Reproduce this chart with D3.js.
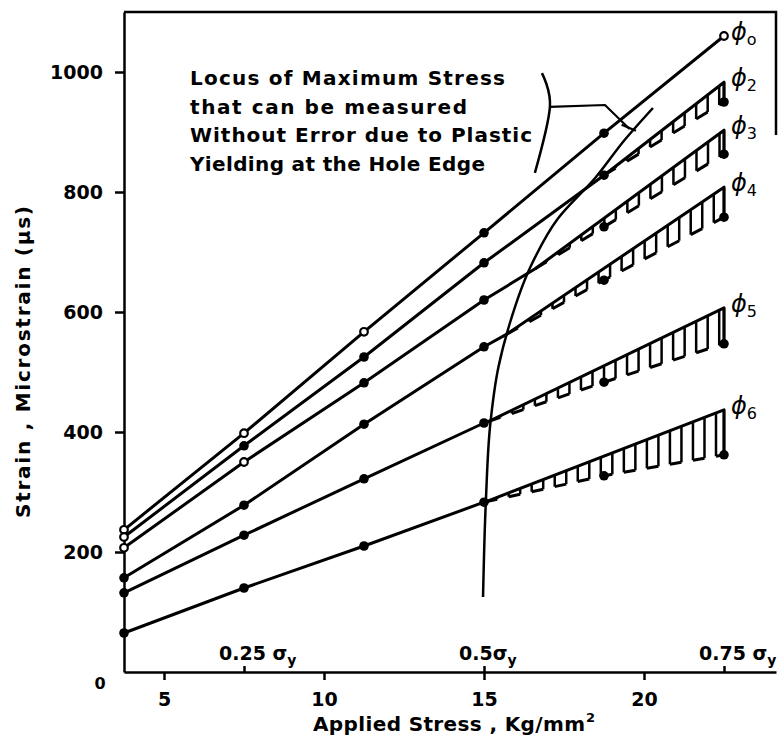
<!DOCTYPE html>
<html>
<head>
<meta charset="utf-8">
<script src="https://cdn.jsdelivr.net/npm/d3@7/dist/d3.min.js"></script>
<style>
  body { margin: 0; background: #fff; }
  svg text { font-family: "DejaVu Sans", sans-serif; font-weight: bold; fill: #000; }
</style>
</head>
<body>
<div id="chart"></div>
<script>
//Data///////////////////////////////////////////////////////////////////////////////////////////

// applied stress (Kg/mm2) where the gauges were read
var stress = [3.75, 7.5, 11.25, 15, 18.75, 22.5];

// measured strain (microstrain) for each hole depth
var phi0 = [237, 398, 567, 732, 898, 1060];
var phi2 = [225, 377, 525, 682, 828, 950];
var phi3 = [207, 350, 482, 620, 742, 863];
var phi4 = [157, 278, 413, 542, 653, 758];
var phi5 = [132, 228, 322, 415, 483, 547];
var phi6 = [65, 140, 210, 283, 327, 362];

var seriesNames = ["o", "2", "3", "4", "5", "6"];
var seriesValues = [phi0, phi2, phi3, phi4, phi5, phi6];

// where each curve leaves the straight line (locus crossing) and the straight line value at 22.5
var yieldStress = [null, 18.75, 16.6, 15.7, 15.15, 15.05];
var elasticEnd = [null, 983, 903, 808, 607, 437];

// locus of maximum stress curve
var locusStress = [14.97, 15.06, 15.2, 15.45, 15.8, 16.45, 17.3, 18.5, 19.4, 20.28];
var locusStrain = [125, 287, 415, 508, 580, 675, 755, 825, 887, 940];

// ticks
var yTicks = [200, 400, 600, 800, 1000];
var xTicks = [5, 10, 15, 20];
var sigmaTicks = [7.5, 15, 22.5];
var sigmaLabels = ["0.25 ", "0.5", "0.75 "];

var noteLines = ["Locus of Maximum Stress", "that can be measured", "Without  Error due to Plastic", "Yielding  at the Hole Edge"];
var noteWidths = [315, 277, 342, 295];

//Graph//////////////////////////////////////////////////////////////////////////////////////////

var W = 780, H = 744;

var svg = d3.select("#chart")
  .append("svg")
    .attr("width", W)
    .attr("height", H);

var x = d3.scaleLinear()
  .domain([3.75, 24.125])
  .range([124, 776]);

var y = d3.scaleLinear()
  .domain([0, 1100])
  .range([672, 12]);

//Axis///////////////////////////////////////////////////////////////////////////////////////////

var xAxis = svg.append("g")
  .attr("transform", "translate(0," + y(0) + ")")
  .call(d3.axisBottom(x).tickValues(xTicks).tickSize(8).tickSizeOuter(0).tickPadding(13));

var yAxis = svg.append("g")
  .attr("transform", "translate(" + x(3.75) + ",0)")
  .call(d3.axisLeft(y).tickValues(yTicks).tickFormat(d3.format("d")).tickSize(9).tickSizeOuter(0).tickPadding(12));

var sigAxis = svg.append("g")
  .attr("transform", "translate(0," + y(0) + ")")
  .call(d3.axisTop(x).tickValues(sigmaTicks).tickSize(6).tickFormat(""));
sigAxis.select(".domain").remove();

[xAxis, yAxis, sigAxis].forEach(function(g) {
  g.attr("font-family", null).attr("font-size", null);
  g.selectAll("path, line").attr("stroke", "#000").attr("stroke-width", 2.5);
  g.selectAll("text").style("font-size", "19px");
});

// sigma_y labels above the axis
var sigText = svg.append("g")
  .selectAll("text")
  .data(sigmaTicks)
  .enter()
  .append("text")
    .attr("x", function(d) { return x(d) - 25; })
    .attr("y", y(0) - 12)
    .style("font-size", "19px");
sigText.append("tspan").text(function(d, i) { return sigmaLabels[i] + "σ"; });
sigText.append("tspan")
  .attr("dy", 5)
  .style("font-size", "14px")
  .text("y");

// origin
svg.append("text")
  .attr("x", 100)
  .attr("y", 689)
  .style("text-anchor", "middle")
  .style("font-size", "16px")
  .text("0");

// frame on top and right
svg.append("path")
  .attr("d", d3.line()([[x(3.75), y(1100)], [x(24.125), y(1100)], [x(24.125), y(895)]]))
  .attr("fill", "none")
  .attr("stroke", "#000")
  .attr("stroke-width", 2.5);

// axis titles
svg.append("text")
  .attr("x", 313)
  .attr("y", 731)
  .attr("textLength", 272)
  .attr("lengthAdjust", "spacing")
  .style("font-size", "20px")
  .text("Applied  Stress , Kg/mm");
svg.append("text")
  .attr("x", 586)
  .attr("y", 722)
  .style("font-size", "13px")
  .text("2");

svg.append("text")
  .attr("transform", "translate(30,362) rotate(-90)")
  .attr("textLength", 312)
  .attr("lengthAdjust", "spacing")
  .style("text-anchor", "middle")
  .style("font-size", "20px")
  .text("Strain , Microstrain (μs)");

//Lines//////////////////////////////////////////////////////////////////////////////////////////

var line = d3.line()
  .x(function(d) { return x(d[0]); })
  .y(function(d) { return y(d[1]); });

function interp(vals, s) {
  var i = d3.bisectRight(stress, s) - 1;
  i = Math.max(0, Math.min(i, stress.length - 2));
  var t = (s - stress[i]) / (stress[i + 1] - stress[i]);
  return vals[i] + t * (vals[i + 1] - vals[i]);
}

var plot = svg.append("g");

seriesValues.forEach(function(vals, k) {
  var pts = stress.map(function(s, i) { return [s, vals[i]]; });
  var ys = yieldStress[k];

  if (ys === null) {
    plot.append("path")
      .attr("d", line(pts))
      .attr("fill", "none")
      .attr("stroke", "#000")
      .attr("stroke-width", 3);
    return;
  }

  var cross = [ys, interp(vals, ys)];
  var last = stress[stress.length - 1];
  var elastic = pts.filter(function(p) { return p[0] < ys; }).concat([cross]);

  // straight (elastic) part and its extension
  plot.append("path")
    .attr("d", line(elastic.concat([[last, elasticEnd[k]], [last, vals[vals.length - 1]]])))
    .attr("fill", "none")
    .attr("stroke", "#000")
    .attr("stroke-width", 3)
    .attr("stroke-linejoin", "round");

  // hatching between extension and measured curve
  var upper = function(s) { return cross[1] + (s - ys) / (last - ys) * (elasticEnd[k] - cross[1]); };
  var step = 0.36;
  var bars = [];
  for (var s = ys + step; s < last - step / 3; s += step) bars.push(s);
  bars.push(last);

  plot.append("g")
    .selectAll("line")
    .data(bars)
    .enter()
    .append("line")
      .attr("x1", function(d) { return x(d); })
      .attr("x2", function(d) { return x(d); })
      .attr("y1", function(d) { return y(upper(d)); })
      .attr("y2", function(d) { return y(interp(vals, d)); })
      .attr("stroke", "#000")
      .attr("stroke-width", 2.5);

  var feet = [];
  var prev = ys;
  bars.forEach(function(b, i) {
    if (i % 2 === 0) feet.push([prev, b]);
    prev = b;
  });
  plot.append("g")
    .selectAll("path")
    .data(feet)
    .enter()
    .append("path")
      .attr("d", function(d) { return line([[d[0], interp(vals, d[0])], [d[1], interp(vals, d[1])]]); })
      .attr("fill", "none")
      .attr("stroke", "#000")
      .attr("stroke-width", 3);
});

// locus of maximum stress
var locusPts = locusStress.map(function(s, i) { return [s, locusStrain[i]]; });
plot.append("path")
  .attr("d", d3.line()
    .x(function(d) { return x(d[0]); })
    .y(function(d) { return y(d[1]); })
    .curve(d3.curveMonotoneY)(locusPts))
  .attr("fill", "none")
  .attr("stroke", "#000")
  .attr("stroke-width", 2.5);

//Points/////////////////////////////////////////////////////////////////////////////////////////

var hollow = { 0: [0, 1, 2, 5], 1: [0], 2: [0, 1] };

seriesValues.forEach(function(vals, k) {
  plot.append("g")
    .selectAll("circle")
    .data(vals)
    .enter()
    .append("circle")
      .attr("cx", function(d, i) { return x(stress[i]); })
      .attr("cy", function(d) { return y(d); })
      .attr("r", function(d, i) { return (hollow[k] || []).indexOf(i) >= 0 ? 3.8 : 4.8; })
      .style("fill", function(d, i) { return (hollow[k] || []).indexOf(i) >= 0 ? "#fff" : "#000"; })
      .style("stroke", "#000")
      .style("stroke-width", function(d, i) { return (hollow[k] || []).indexOf(i) >= 0 ? 2.2 : 0; });
});

// series labels at the right
var labels = svg.append("g")
  .selectAll("text")
  .data(seriesNames)
  .enter()
  .append("text")
    .attr("x", x(22.5) + 7)
    .attr("y", function(d, k) { return y(k === 0 ? phi0[5] : elasticEnd[k]) + 4; })
    .style("font-size", "24px")
    .style("font-weight", "normal");
labels.append("tspan")
  .style("font-style", "italic")
  .text("ϕ");
labels.append("tspan")
  .attr("dy", 5)
  .style("font-size", "16px")
  .text(function(d) { return d; });

//Annotation/////////////////////////////////////////////////////////////////////////////////////

svg.append("g")
  .selectAll("text")
  .data(noteLines)
  .enter()
  .append("text")
    .attr("x", 190)
    .attr("y", function(d, i) { return 85 + i * 28.5; })
    .attr("textLength", function(d, i) { return noteWidths[i]; })
    .attr("lengthAdjust", "spacing")
    .style("font-size", "20px")
    .text(function(d) { return d; });

// bracket and pointer onto the locus
svg.append("path")
  .attr("d", line.curve(d3.curveCardinal)([[16.81, 998], [17.06, 942], [16.59, 832]]))
  .attr("fill", "none")
  .attr("stroke", "#000")
  .attr("stroke-width", 2.5);
line.curve(d3.curveLinear);

svg.append("path")
  .attr("d", line([[17.06, 942], [18.78, 945], [19.55, 905]]))
  .attr("fill", "none")
  .attr("stroke", "#000")
  .attr("stroke-width", 2.2);
svg.append("path")
  .attr("d", line([[19.3, 912], [19.75, 902]]))
  .attr("fill", "none")
  .attr("stroke", "#000")
  .attr("stroke-width", 2.2);
</script>
</body>
</html>
